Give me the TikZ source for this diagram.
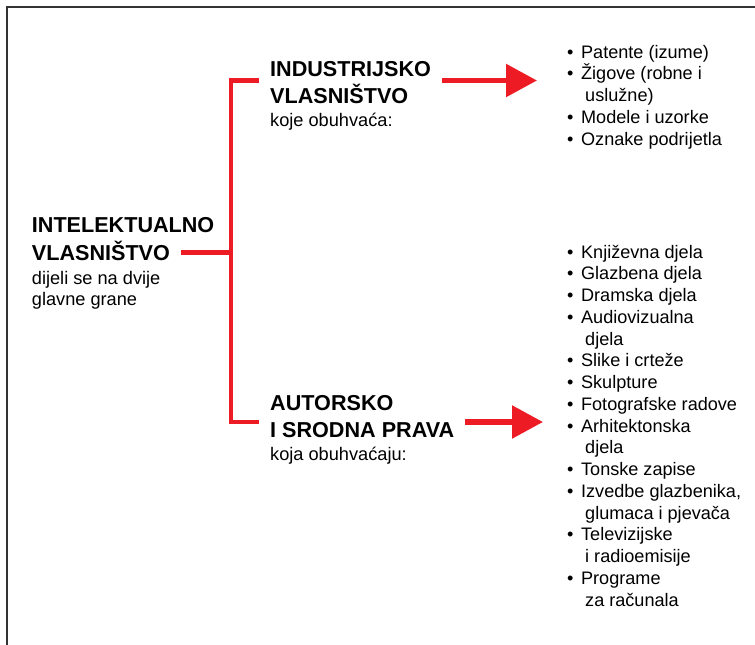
\documentclass[tikz,border=0pt]{standalone}
\usepackage{fontspec}
\setmainfont{Liberation Sans}
\usetikzlibrary{arrows.meta}
\definecolor{ipred}{HTML}{ED1C24}
\definecolor{framegray}{HTML}{333333}
\newcommand{\bul}{•\hspace{7.6pt}}
\newcommand{\cont}{\hspace*{18pt}}
\tikzset{
  head/.style={font=\bfseries\fontsize{21.6}{24}\selectfont, anchor=base west, inner xsep=11pt, inner ysep=0pt},
  sub/.style={font=\fontsize{18.2}{21}\selectfont, anchor=base west, inner sep=0pt},
  item/.style={font=\fontsize{18.1}{21}\selectfont, anchor=base west, inner sep=0pt},
  redline/.style={draw=ipred, line width=4.8pt},
  bigarrow/.style={draw=ipred, line width=5.5pt, -{Triangle[length=31pt,width=32pt]}}
}
\begin{document}
\begin{tikzpicture}[x=1pt,y=-1pt]
  \useasboundingbox (0,0) rectangle (755,645);
  \draw[framegray, line width=1.3pt] (7,645) -- (7,7) -- (755,7);

  % main heading
  \node[head] (intel1) at (20.7,232.5) {INTELEKTUALNO};
  \node[head] (intel2) at (20.7,260) {VLASNIŠTVO};
  \node[sub] (intel3) at (31.7,284.5) {dijeli se na dvije};
  \node[sub] (intel4) at (31.7,305.5) {glavne grane};

  % branches
  \node[head] (ind1) at (259,76.7) {INDUSTRIJSKO};
  \node[head] (ind2) at (259,103.3) {VLASNIŠTVO};
  \node[sub] (ind3) at (270,126) {koje obuhvaća:};

  \node[head] (aut1) at (259,410) {AUTORSKO};
  \node[head] (aut2) at (259,437.7) {I SRODNA PRAVA};
  \node[sub] (aut3) at (270,460) {koja obuhvaćaju:};

  \coordinate (fork) at (231,252.5);
  \coordinate (indtip) at (537,80.5);
  \coordinate (auttip) at (543,422);

  \draw[redline] (intel2.east |- fork) -- (fork);
  \draw[redline] (ind1.west |- indtip) -| (fork) |- (aut1.west |- auttip);
  \draw[bigarrow] (ind1.east |- indtip) -- (indtip);
  \draw[bigarrow] (aut2.east |- auttip) -- (auttip);

  % lists
  \foreach \t [count=\i from 0] in {\bul Patente (izume), \bul Žigove (robne i,
      \cont uslužne), \bul Modele i uzorke, \bul Oznake podrijetla}
    \node[item] (indl-\i) at (567,{58+21.75*\i}) {\t};

  \foreach \t [count=\i from 0] in {\bul Književna djela, \bul Glazbena djela,
      \bul Dramska djela, \bul Audiovizualna, \cont djela, \bul Slike i crteže,
      \bul Skulpture, \bul Fotografske radove, \bul Arhitektonska, \cont djela,
      \bul Tonske zapise, {\bul Izvedbe glazbenika,}, \cont glumaca i pjevača,
      \bul Televizijske, \cont i radioemisije, \bul Programe, \cont za računala}
    \node[item] (autl-\i) at (567,{258+21.75*\i}) {\t};
\end{tikzpicture}
\end{document}
